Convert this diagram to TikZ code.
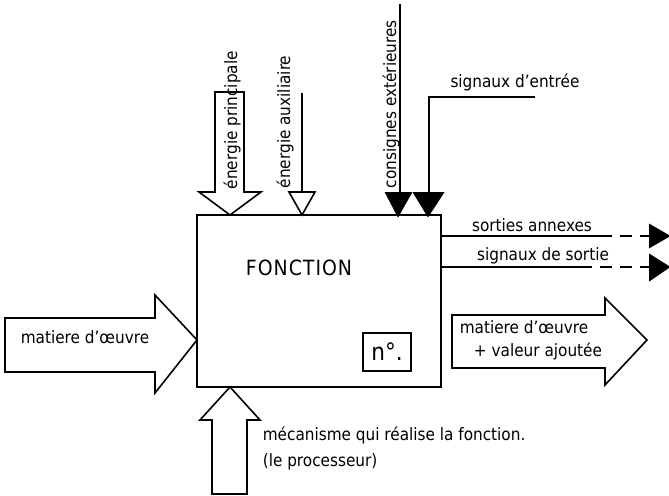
\documentclass[tikz,border=0pt]{standalone}
\usepackage{fontspec}
\setmainfont{DejaVu Sans Condensed}
\begin{document}
\begin{tikzpicture}[x=0.5pt,y=-0.5pt,
  line width=0.8pt,
  lbl/.style={inner sep=0pt,font=\fontsize{8.5}{10}\selectfont},
  blockarrow/.style={draw,fill=white,line join=miter},
  tip/.style={draw,fill=black,line join=miter},
  thin/.style={line width=0.8pt}]
\useasboundingbox (0,0) rectangle (669,496);
% main box
\node[draw,minimum width=122pt,minimum height=86pt,inner sep=0pt] (fn) at (319,301) {};
\node[lbl,font=\fontsize{10.5}{12}\selectfont] (fntxt) at (299,268) {F\kern0.5pt O\kern0.5pt N\kern0.5pt C\kern0.5pt T\kern0.5pt I\kern0.5pt O\kern0.5pt N};
\node[draw,minimum width=24pt,minimum height=19pt,inner sep=0pt,font=\fontsize{12}{14}\selectfont] (num) at (387,352) {n°.};
% energie principale
\draw[blockarrow] (215,92) -- (244,92) -- (244,192) -- (261,192) -- (230,215) -- (199,192) -- (215,192) -- cycle;
\node[lbl,rotate=90,anchor=west] (ep) at (232,190) {énergie principale};
% energie auxiliaire
\coordinate (eatop) at (302,93);
\coordinate (eabase) at (302,192);
\draw[thin] (eatop) -- (eabase);
\draw[blockarrow] (289,192) -- (315,192) -- (302,215) -- cycle;
\node[lbl,rotate=90,anchor=west] (ea) at (285,189) {énergie auxiliaire};
% consignes exterieures
\coordinate (cetop) at (400,4);
\coordinate (cebase) at (400,193);
\draw[thin] (cetop) -- (cebase);
\draw[tip] (386,193) -- (411,193) -- (398,216) -- cycle;
\node[lbl,rotate=90,anchor=west] (ce) at (391,189) {consignes extérieures};
% signaux d'entree
\coordinate (seend) at (535,97);
\coordinate (secorner) at (429,97);
\coordinate (sebase) at (429,193);
\draw[thin] (seend) -- (secorner) -- (sebase);
\draw[tip] (414,193) -- (443,193) -- (428,216) -- cycle;
\node[lbl] (se) at (515,82) {signaux d'entrée};
% sorties annexes
\coordinate (sa1) at (441,236);
\coordinate (sa2) at (600,236);
\coordinate (sa3) at (650,236);
\draw[thin] (sa1) -- (sa2);
\draw[thin,dash pattern=on 6pt off 4pt] (sa2) -- (sa3);
\draw[tip] (650,225) -- (669,236) -- (650,247) -- cycle;
\node[lbl] (satxt) at (532,225) {sorties annexes};
% signaux de sortie
\coordinate (ss1) at (441,267);
\coordinate (ss2) at (580,267);
\coordinate (ss3) at (650,267);
\draw[thin] (ss1) -- (ss2);
\draw[thin,dash pattern=on 6pt off 4pt] (ss2) -- (ss3);
\draw[tip] (650,255) -- (669,267) -- (650,280) -- cycle;
\node[lbl] (sstxt) at (543,256) {signaux de sortie};
% matiere d'oeuvre (left)
\draw[blockarrow] (5,318) -- (155,318) -- (155,295) -- (197,340) -- (155,393) -- (155,372) -- (5,372) -- cycle;
\node[lbl] (mo) at (85,337) {matiere d'œuvre};
% matiere d'oeuvre + valeur ajoutee (right)
\draw[blockarrow] (452,315) -- (605,315) -- (605,298) -- (647,340) -- (605,385) -- (605,368) -- (452,368) -- cycle;
\node[lbl] (mv1) at (524,327) {matiere d'œuvre};
\node[lbl] (mv2) at (538,351) {+ valeur ajoutée};
% mecanisme
\draw[blockarrow] (212,494) -- (212,420) -- (200,420) -- (230,387) -- (260,420) -- (247,420) -- (247,494) -- cycle;
\node[lbl,anchor=west,align=left] (mec) at (262,448) {mécanisme qui réalise la fonction.\\[3pt](le processeur)};
\end{tikzpicture}
\end{document}
